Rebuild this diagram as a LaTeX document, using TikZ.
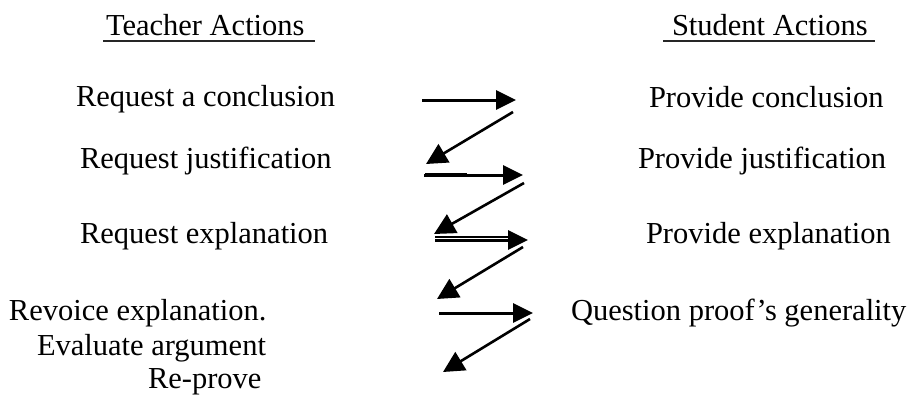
\documentclass[tikz,border=0pt]{standalone}
\usepackage{fontspec}
\setmainfont{Liberation Serif}
\usetikzlibrary{arrows.meta}

\tikzset{
  label text/.style={anchor=base west, inner sep=0pt, outer sep=0pt,
                     font=\fontsize{30.5}{36}\selectfont},
  head text/.style={label text},
  head rule/.style={line width=2.2pt, black!85},
  turn arrow/.style={line width=3pt, -{Triangle[length=20pt,width=19pt]}},
  back arrow/.style={line width=2.6pt, -{Triangle[length=21pt,width=21pt]}},
}

\begin{document}
\begin{tikzpicture}[x=1pt,y=-1pt]
  \useasboundingbox (0,0) rectangle (919,394);

  % column headings
  \node[head text] (ht) at (106,35) {Teacher Actions};
  \node[head text] (hs) at (672,35) {Student Actions};
  \draw[head rule] (ht.base west) ++(-3,6) -- ++(212,0);
  \draw[head rule] (hs.base west) ++(-9,6) -- ++(212,0);

  % teacher side
  \node[label text] (t1) at (76,106)  {Request a conclusion};
  \node[label text] (t2) at (80,168)  {Request justification};
  \node[label text] (t3) at (80,243)  {Request explanation};
  \node[label text] (t4) at (9,320)   {Revoice explanation.};
  \node[label text] (t5) at (37,355)  {Evaluate argument};
  \node[label text] (t6) at (148,388) {Re-prove};

  % student side
  \node[label text] (s1) at (649,107) {Provide conclusion};
  \node[label text] (s2) at (638,168) {Provide justification};
  \node[label text] (s3) at (646,243) {Provide explanation};
  \node[label text] (s4) at (571,320) {Question proof's generality};

  % arrow end points
  \coordinate (r1a) at (422,100); \coordinate (r1b) at (516,100);
  \coordinate (l1a) at (513,112); \coordinate (l1b) at (426,164);
  \coordinate (r2a) at (424,175); \coordinate (r2b) at (523,175);
  \coordinate (l2a) at (524,183); \coordinate (l2b) at (434,234);
  \coordinate (r3a) at (435,240); \coordinate (r3b) at (528,240);
  \coordinate (l3a) at (523,247); \coordinate (l3b) at (437,299);
  \coordinate (r4a) at (439,313); \coordinate (r4b) at (533,313);
  \coordinate (l4a) at (530,319); \coordinate (l4b) at (443,372);
  \coordinate (x2a) at (425,174); \coordinate (x2b) at (467,174);
  \coordinate (x3a) at (435,237); \coordinate (x3b) at (510,237);

  % request -> response -> next request
  \draw[turn arrow] (r1a) -- (r1b);
  \draw[back arrow] (l1a) -- (l1b);
  \draw[turn arrow] (r2a) -- (r2b);
  \draw[line width=2.4pt] (x2a) -- (x2b);
  \draw[back arrow] (l2a) -- (l2b);
  \draw[turn arrow] (r3a) -- (r3b);
  \draw[line width=1.4pt] (x3a) -- (x3b);
  \draw[back arrow] (l3a) -- (l3b);
  \draw[turn arrow] (r4a) -- (r4b);
  \draw[back arrow] (l4a) -- (l4b);
\end{tikzpicture}
\end{document}
